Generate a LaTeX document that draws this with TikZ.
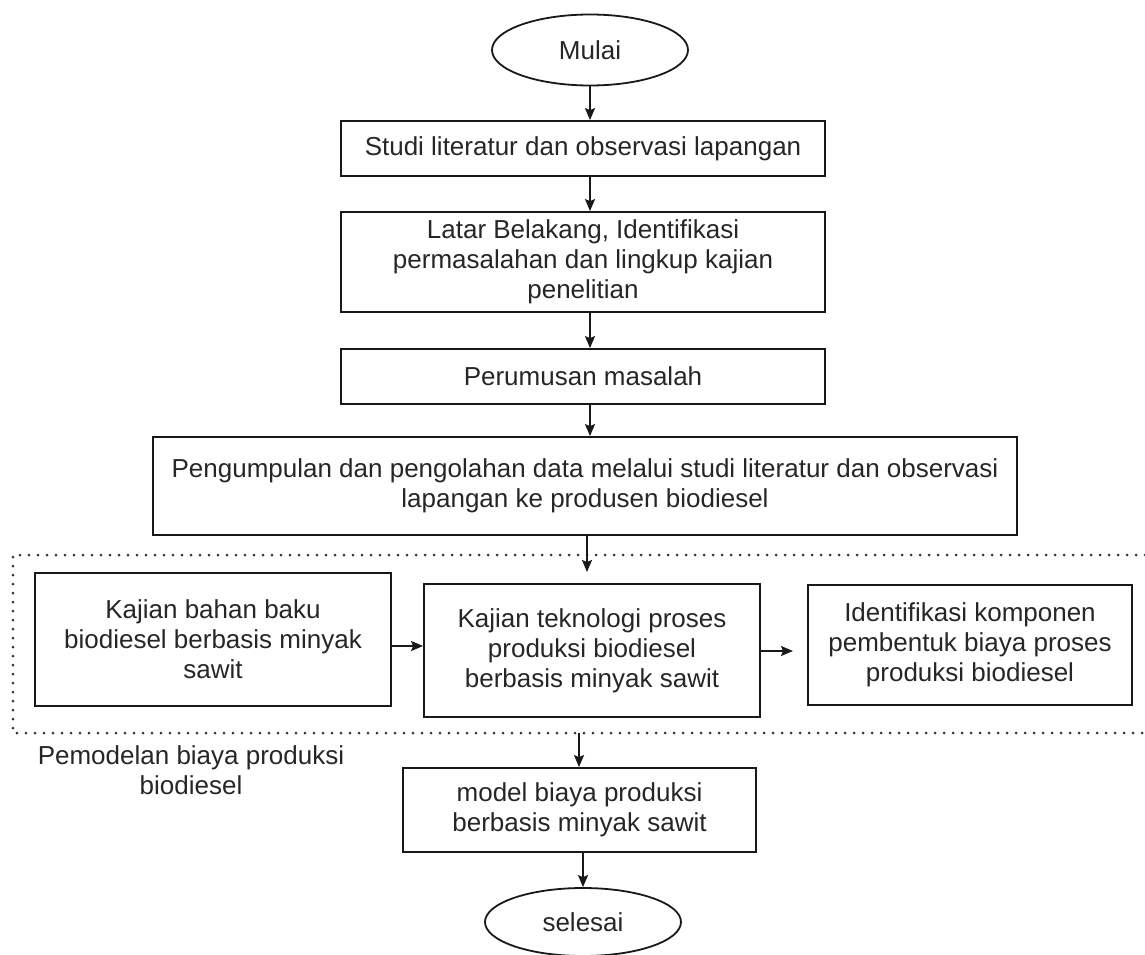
\documentclass[tikz,border=0pt]{standalone}
\usepackage{fontspec}
\setmainfont{Liberation Sans}
\usetikzlibrary{shapes.geometric,arrows.meta}
\begin{document}
\begin{tikzpicture}[x=1pt,y=-1pt,
  every node/.style={font=\fontsize{26}{30}\selectfont, text=black!85, inner sep=0pt, align=center},
  proc/.style={draw=black!90, line width=1.8pt, rectangle},
  term/.style={draw=black!90, line width=1.8pt, ellipse},
  arr/.style={draw=black!90, line width=1.8pt, -{Stealth[length=12pt,width=10pt,inset=2pt]}},
  grp/.style={draw=black!80, line width=3pt, dash pattern=on 0pt off 9pt, line cap=round}]
\useasboundingbox (0,0) rectangle (1145,955);

\node[term, minimum width=196pt, minimum height=71pt] (start) at (590,50) {Mulai};
\node[proc, minimum width=484pt, minimum height=55pt] (b1) at (583,148.5) {Studi literatur dan observasi lapangan};
\node[proc, minimum width=484pt, minimum height=100pt] (b2) at (583,262) {Latar Belakang, Identifikasi\\permasalahan dan lingkup kajian\\penelitian};
\node[proc, minimum width=484pt, minimum height=55pt] (b3) at (583,376.5) {Perumusan masalah};
\node[proc, minimum width=864pt, minimum height=98pt] (b4) at (585,486) {Pengumpulan dan pengolahan data melalui studi literatur dan observasi\\lapangan ke produsen biodiesel};

% dotted group
\coordinate (gtr) at (1145,555);
\coordinate (gtl) at (13,555);
\coordinate (gbl) at (13,733);
\coordinate (gbr) at (1145,733);
\draw[grp] (gtr) -- (gtl) -- (gbl) -- (gbr);

\node[proc, minimum width=356pt, minimum height=133pt] (k1) at (213,639.5) {Kajian bahan baku\\biodiesel berbasis minyak\\sawit};
\node[proc, minimum width=336pt, minimum height=133pt] (k2) at (592,650.5) {Kajian teknologi proses\\produksi biodiesel\\berbasis minyak sawit};
\node[proc, minimum width=324pt, minimum height=120pt] (k3) at (970,645) {Identifikasi komponen\\pembentuk biaya proses\\produksi biodiesel};

\node (lbl) at (191,770) {Pemodelan biaya produksi\\biodiesel};

\node[proc, minimum width=353pt, minimum height=84pt] (m) at (579.5,810) {model biaya produksi\\berbasis minyak sawit};
\node[term, minimum width=196pt, minimum height=68pt] (end) at (583,922) {selesai};

\coordinate (k2in) at (587,572);
\coordinate (gout) at (579,733);
\coordinate (k3in) at (793,651);

\draw[arr] (start.south) -- (start.south |- b1.north);
\draw[arr] (b1.south -| start.south) -- (start.south |- b2.north);
\draw[arr] (b2.south -| start.south) -- (start.south |- b3.north);
\draw[arr] (b3.south -| start.south) -- (start.south |- b4.north);
\draw[arr] (b4.south -| k2in) -- (k2in);
\draw[arr] (k1.east |- 0,646) -- (k2.west |- 0,646);
\draw[arr] (k2.east |- k3in) -- (k3in);
\draw[arr] (gout) -- (gout |- m.north);
\draw[arr] (m.south -| end.north) -- (end.north);
\end{tikzpicture}
\end{document}
